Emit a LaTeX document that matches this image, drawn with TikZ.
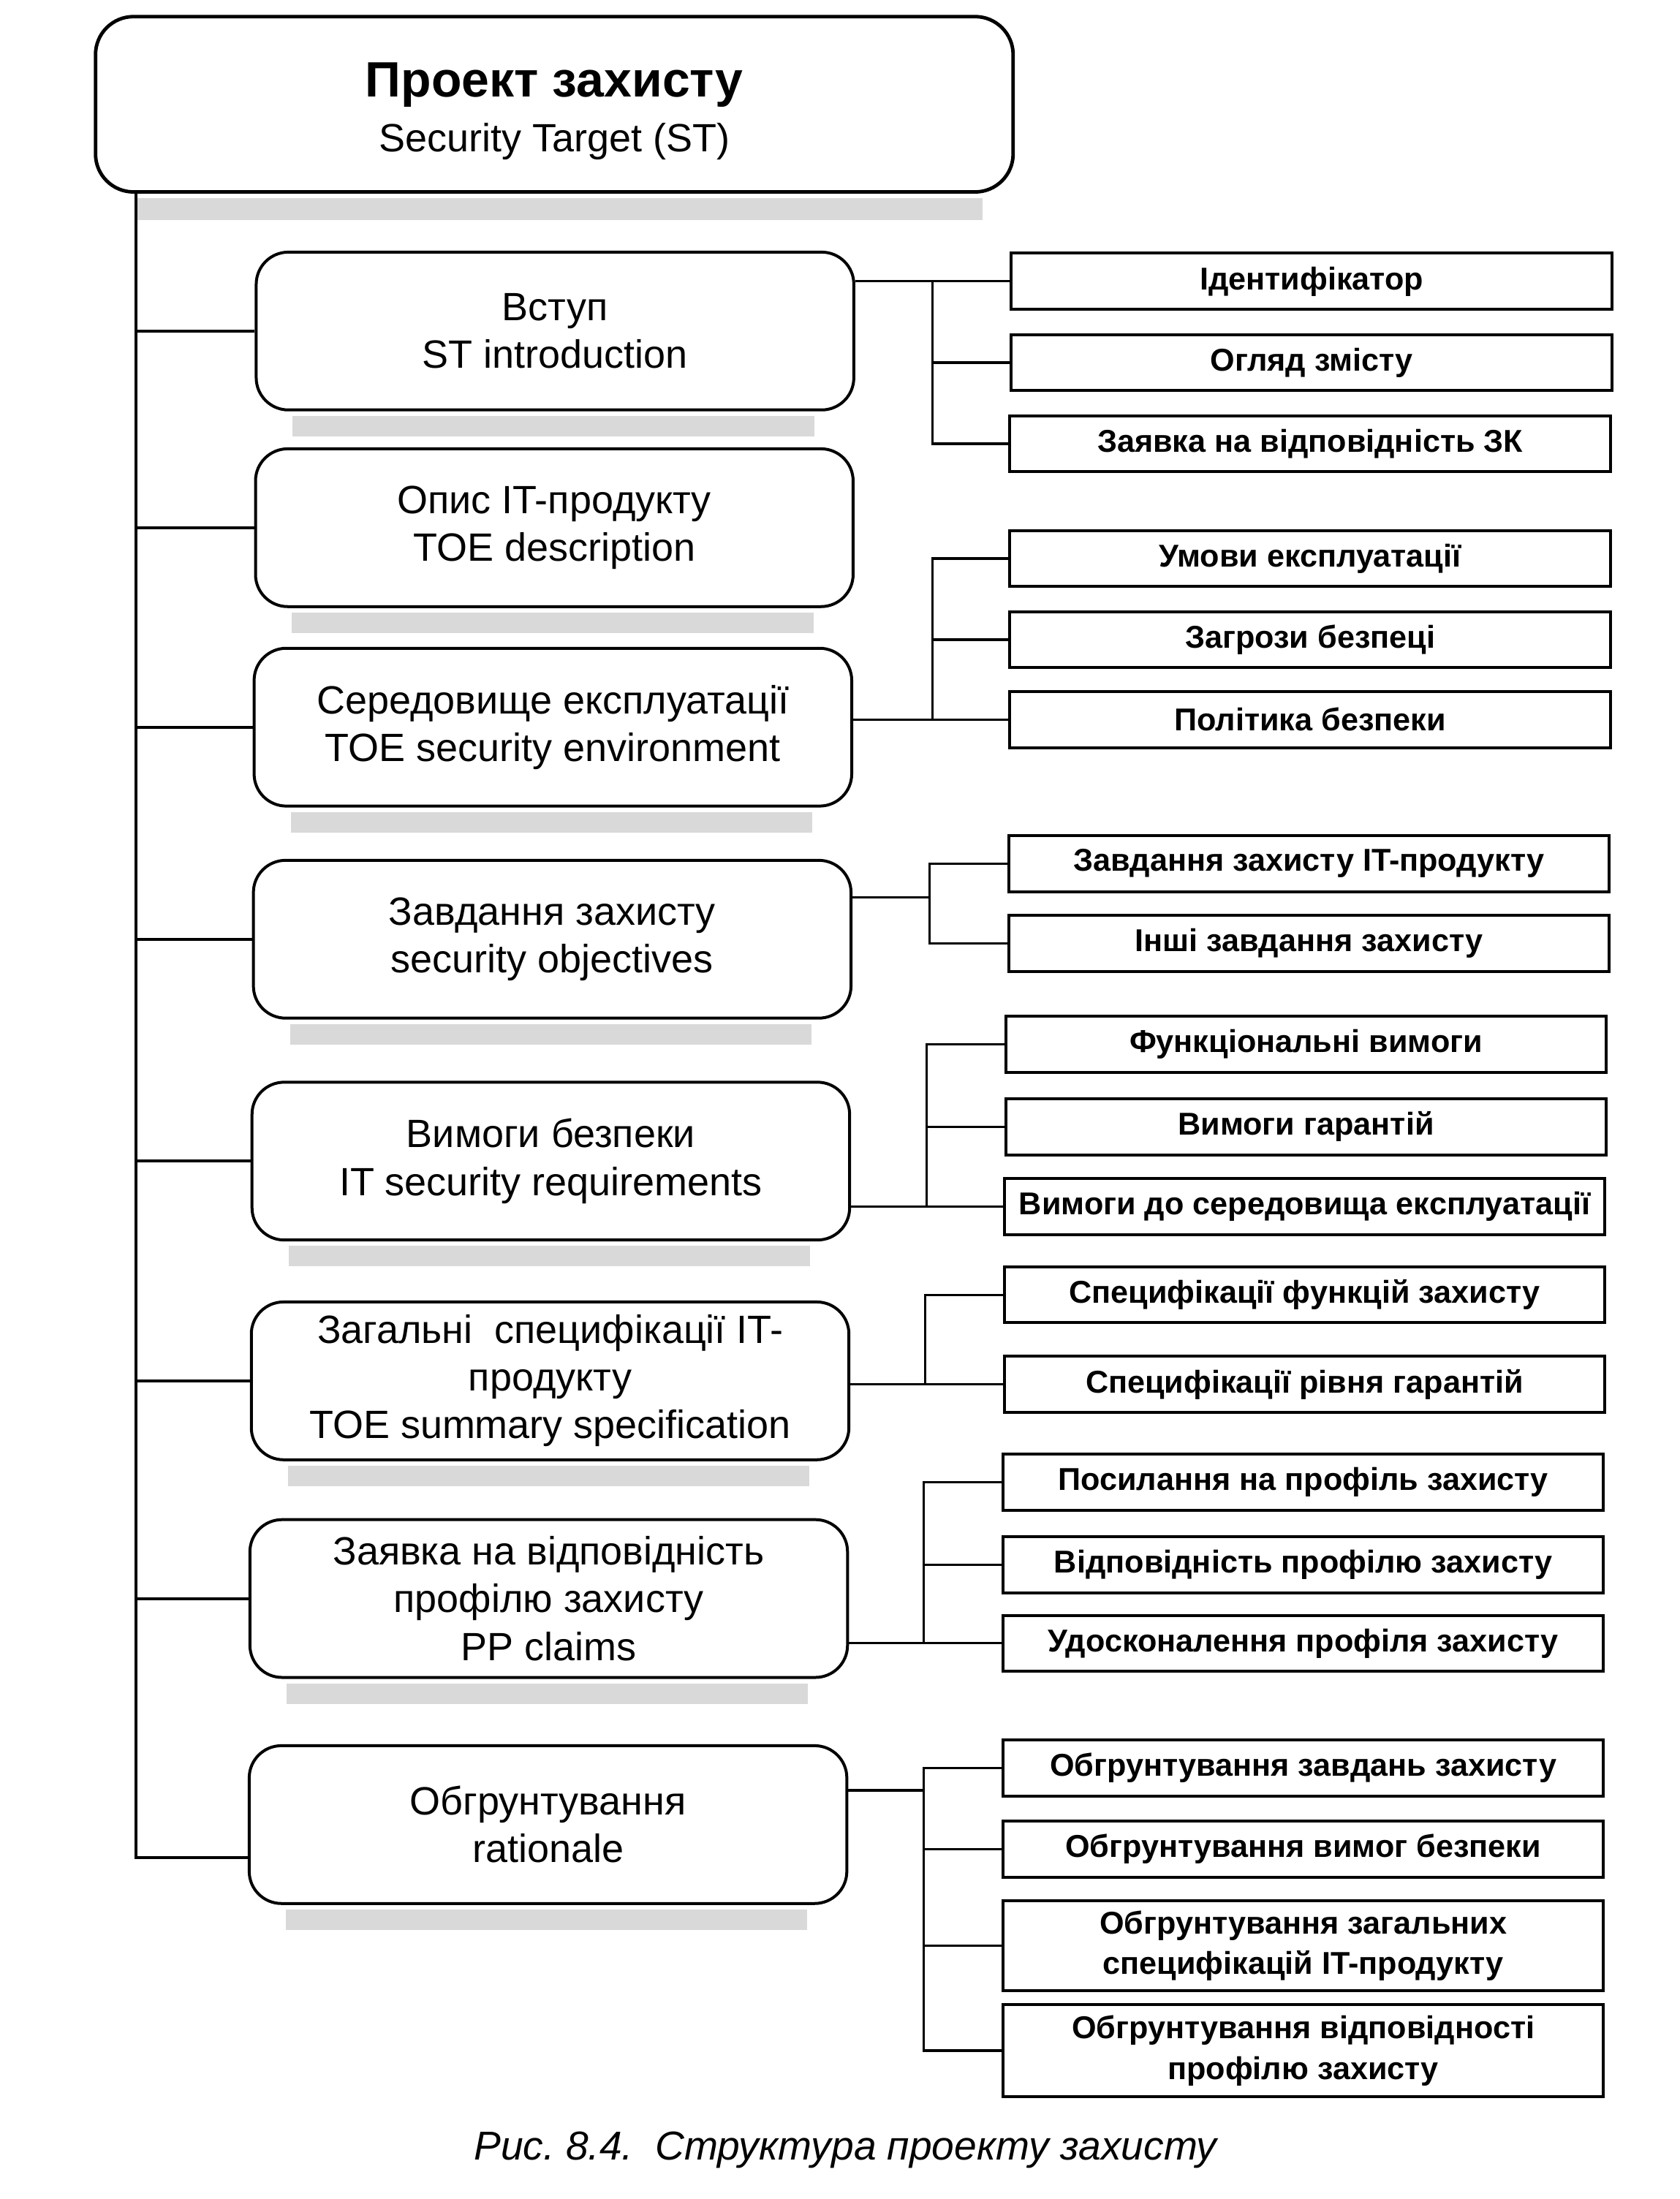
\documentclass[tikz,border=0pt]{standalone}
\usepackage{fontspec}
\setmainfont{Liberation Sans}
\frenchspacing

\begin{document}
\begin{tikzpicture}[x=0.479pt,y=-0.479pt,
        mainbox/.style={draw,line width=1.2pt,rounded corners=13pt,minimum width=314pt,minimum height=60pt,inner sep=0pt,align=center,font=\fontsize{13.5}{18.7}\selectfont},
        partbox/.style={draw,line width=1pt,rounded corners=11pt,minimum width=204.5pt,minimum height=54pt,inner sep=0pt,align=center,font=\fontsize{13.5}{16.3}\selectfont},
        itembox/.style={draw,line width=1pt,minimum width=205.5pt,minimum height=19.2pt,inner sep=0pt,align=center,font=\bfseries\fontsize{10.8}{13.9}\selectfont},
        shadowband/.style={fill=black!15},
        link/.style={line width=0.8pt}]
        \useasboundingbox (0,0) rectangle (1200,1571);

        % title
        \node[mainbox] (st) at (396,74.5) {\rule{0pt}{16.5pt}{\bfseries\fontsize{17}{18.7}\selectfont Проект захисту}\\Security Target (ST)};

        % parts of the ST
        \node[partbox] (vst) at (396.5,236.5) {Вступ\\ST introduction};
        \node[partbox] (opys) at (396,377) {Опис IT-продукту\\TOE description};
        \node[partbox] (ser) at (395,519.5) {Середовище експлуатації\\TOE security environment};
        \node[partbox] (zav) at (394.5,671) {Завдання захисту\\security objectives};
        \node[partbox] (vym) at (393.5,829.5) {Вимоги безпеки\\IT security requirements};
        \node[partbox] (zag) at (393,986.5) {Загальні~ специфікації IT-\\продукту\\TOE summary specification};
        \node[partbox] (zayav) at (392,1142) {Заявка на відповідність\\профілю захисту\\PP claims};
        \node[partbox] (obg) at (391.5,1303.5) {Обгрунтування\\rationale};

        % shadows under the rounded boxes
        \fill[shadowband] ([xshift=15pt,yshift=-1.5pt]st.south west) rectangle ([xshift=-11pt,yshift=-9pt]st.south east);
        \foreach \n in {vst,opys,ser,zav,vym,zag,zayav,obg}
            \fill[shadowband] ([xshift=13pt,yshift=-1.5pt]\n.south west) rectangle ([xshift=-14pt,yshift=-8.5pt]\n.south east);

        % items
        \node[itembox] (idn) at (937,201) {Ідентифікатор};
        \node[itembox] (ohl) at (937,259) {Огляд змісту};
        \node[itembox] (zk) at (936,317) {Заявка на відповідність ЗК};
        \node[itembox] (umv) at (936,399) {Умови експлуатації};
        \node[itembox] (zah) at (936,457) {Загрози безпеці};
        \node[itembox] (pol) at (936,514) {Політика безпеки};
        \node[itembox] (zit) at (935,617) {Завдання захисту IT-продукту};
        \node[itembox] (inz) at (935,674) {Інші завдання захисту};
        \node[itembox] (fun) at (933,746) {Функціональні вимоги};
        \node[itembox] (har) at (933,805) {Вимоги гарантій};
        \node[itembox] (sered) at (932,862) {Вимоги до середовища експлуатації};
        \node[itembox] (sfz) at (932,925) {Специфікації функцій захисту};
        \node[itembox] (srh) at (932,989) {Специфікації рівня гарантій};
        \node[itembox] (pos) at (931,1059) {Посилання на профіль захисту};
        \node[itembox] (vpz) at (931,1118) {Відповідність профілю захисту};
        \node[itembox] (uds) at (931,1174) {Удосконалення профіля захисту};
        \node[itembox] (obz) at (931,1263) {Обгрунтування завдань захисту};
        \node[itembox] (obv) at (931,1321) {Обгрунтування вимог безпеки};
        \node[itembox,minimum height=31pt] (obs) at (931,1390) {Обгрунтування загальних\\специфікацій IT-продукту};
        \node[itembox,minimum height=31.5pt] (obp) at (931,1465) {Обгрунтування відповідності\\профілю захисту};

        % trunk
        \coordinate (tj) at (97,1327);
        \draw[line width=1pt] (st.south -| tj) -- (tj) -- (tj -| obg.west);
        \foreach \n in {vst,opys,ser,zav,vym,zag,zayav}
            \draw[line width=1pt] (\n.west -| tj) -- (\n.west);

        % brackets to the items
        \coordinate (b1) at (666,0);
        \coordinate (b4) at (662,0);
        \coordinate (b5) at (661,0);
        \coordinate (b6) at (660,0);
        \coordinate (j3) at (664,641);
        \coordinate (j7) at (660,1279);

        \draw[link] (vst.east |- idn.west) -- (idn.west);
        \draw[link] (idn.west) -| (zk.west -| b1) -- (zk.west);
        \draw[link] (ohl.west -| b1) -- (ohl.west);

        \draw[link] (ser.east |- pol.west) -- (pol.west);
        \draw[link] (umv.west) -| (pol.west -| b1);
        \draw[link] (zah.west -| b1) -- (zah.west);

        \draw[link] (j3 -| zav.east) -- (j3);
        \draw[link] (zit.west) -| (inz.west -| j3) -- (inz.west);

        \draw[link] (vym.east |- sered.west) -- (sered.west);
        \draw[link] (fun.west) -| (sered.west -| b4);
        \draw[link] (har.west -| b4) -- (har.west);

        \draw[link] (zag.east |- srh.west) -- (srh.west);
        \draw[link] (sfz.west) -| (srh.west -| b5);

        \draw[link] (zayav.east |- uds.west) -- (uds.west);
        \draw[link] (pos.west) -| (uds.west -| b6);
        \draw[link] (vpz.west -| b6) -- (vpz.west);

        \draw[link] (j7 -| obg.east) -- (j7);
        \draw[link] (obz.west) -| (obp.west -| j7) -- (obp.west);
        \foreach \n in {obv,obs}
            \draw[link] (\n.west -| j7) -- (\n.west);

        % caption
        \node[font=\itshape\fontsize{13.8}{16}\selectfont] (cap) at (604,1536) {Рис. 8.4.~~Структура проекту захисту};
\end{tikzpicture}
\end{document}
